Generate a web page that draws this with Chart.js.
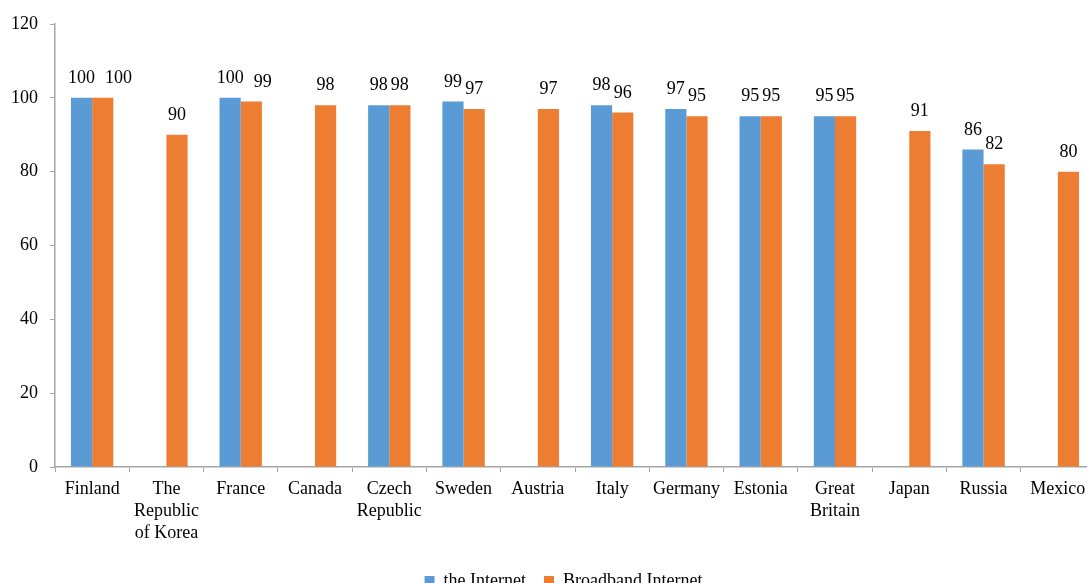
<!DOCTYPE html>
<html>
<head>
<meta charset="utf-8">
<script src="https://cdn.jsdelivr.net/npm/chart.js@4.4.1/dist/chart.umd.min.js"></script>
<style>
  html, body { margin: 0; padding: 0; background: #fff; overflow: hidden; }
  #wrap { width: 1087px; height: 583px; overflow: hidden; position: relative; }
  #chart { position: absolute; left: 0; top: 0; }
</style>
</head>
<body>
<div id="wrap"><canvas id="chart" width="1095" height="600"></canvas></div>
<script>
var countries = ['Finland', ['The', 'Republic', 'of Korea'], 'France', 'Canada', ['Czech', 'Republic'], 'Sweden', 'Austria', 'Italy', 'Germany', 'Estonia', ['Great', 'Britain'], 'Japan', 'Russia', 'Mexico'];
var internet = [100, null, 100, null, 98, 99, null, 98, 97, 95, 95, null, 86, null];
var broadband = [100, 90, 99, 98, 98, 97, 97, 96, 95, 95, 95, 91, 82, 80];
var yTicks = [0, 20, 40, 60, 80, 100, 120];

var serif = '"Liberation Serif", "Times New Roman", serif';
var axisGrey = '#a6a6a6';

// value labels above bars, nudging the second one right when they collide
var barLabels = {
  id: 'barLabels',
  afterDatasetsDraw: function(chart) {
    var ctx = chart.ctx;
    ctx.save();
    ctx.font = '18px ' + serif;
    ctx.fillStyle = '#000';
    ctx.textAlign = 'left';
    ctx.textBaseline = 'alphabetic';
    var n = chart.data.labels.length;
    for (var i = 0; i < n; i++) {
      var prevRight = null;
      chart.data.datasets.forEach(function(ds, d) {
        var v = ds.data[i];
        if (v === null || v === undefined) return;
        var bar = chart.getDatasetMeta(d).data[i];
        var txt = String(v);
        var w = ctx.measureText(txt).width;
        var left = bar.x - w / 2;
        if (prevRight !== null && left - 1 < prevRight + 1) left = prevRight + 10;
        ctx.fillText(txt, left, bar.y - 15);
        prevRight = left + w;
      });
    }
    ctx.restore();
  }
};

// legend sits a little right of the canvas centre in the original
var legendShift = {
  id: 'legendShift',
  afterLayout: function(chart) {
    var lg = chart.legend;
    if (!lg) return;
    lg.left += 16; lg.right += 16;
  }
};

var ctx = document.getElementById('chart').getContext('2d');
var myChart = new Chart(ctx, {
  type: 'bar',
  data: {
    labels: countries,
    datasets: [
      {
        label: 'the Internet',
        data: internet,
        backgroundColor: '#5B9BD5',
        borderWidth: 0
      },
      {
        label: 'Broadband Internet',
        data: broadband,
        backgroundColor: '#ED7D31',
        borderWidth: 0
      }
    ]
  },
  options: {
    responsive: false,
    animation: false,
    layout: { padding: { top: 24, right: 0, left: 0, bottom: 0 } },
    categoryPercentage: 0.57,
    barPercentage: 1.0,
    scales: {
      x: {
        grid: { drawOnChartArea: false, offset: true, tickLength: 5, color: axisGrey },
        border: { color: axisGrey, width: 1.5 },
        ticks: {
          color: '#000',
          font: { family: serif, size: 18, lineHeight: 1.22 },
          maxRotation: 0,
          autoSkip: false,
          padding: 6
        },
        afterFit: function(scale) { scale.height = 87; }
      },
      y: {
        min: 0,
        max: 120,
        afterBuildTicks: function(scale) {
          scale.ticks = yTicks.map(function(v) { return { value: v }; });
        },
        grid: { drawOnChartArea: false, tickLength: 5, color: axisGrey },
        border: { color: axisGrey, width: 1.5 },
        ticks: {
          color: '#000',
          font: { family: serif, size: 18 },
          padding: 12
        },
        afterFit: function(scale) { scale.width = 55; }
      }
    },
    plugins: {
      legend: {
        position: 'bottom',
        labels: {
          color: '#000',
          font: { family: serif, size: 18 },
          boxWidth: 10,
          boxHeight: 10,
          padding: 18
        }
      },
      tooltip: { enabled: false }
    }
  },
  plugins: [barLabels, legendShift]
});
</script>
</body>
</html>
